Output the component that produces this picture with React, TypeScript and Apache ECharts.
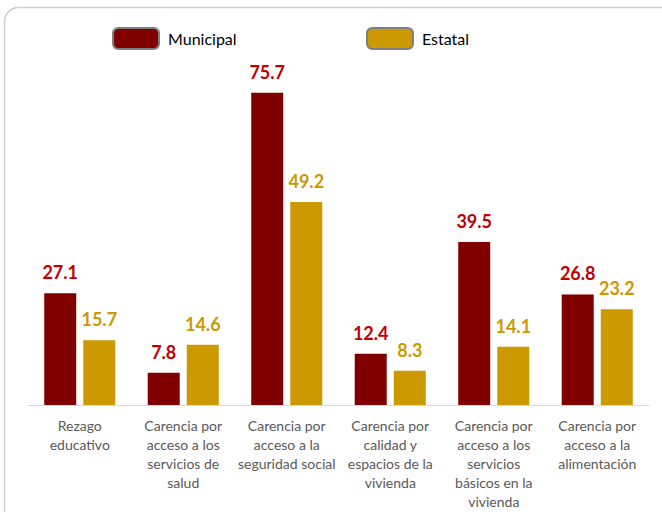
import React, { useEffect, useRef } from "react";
import * as echarts from "echarts";

const categories = [
  "Rezago\neducativo",
  "Carencia por\nacceso a los\nservicios de\nsalud",
  "Carencia por\nacceso a la\nseguridad social",
  "Carencia por\ncalidad y\nespacios de la\nvivienda",
  "Carencia por\nacceso a los\nservicios\nbásicos en la\nvivienda",
  "Carencia por\nacceso a la\nalimentación",
];
const municipal = [27.1, 7.8, 75.7, 12.4, 39.5, 26.8];
const estatal = [15.7, 14.6, 49.2, 8.3, 14.1, 23.2];

const FONT = "Lato";

export default function App() {
  const ref = useRef<HTMLDivElement>(null);
  useEffect(() => {
    if (!ref.current) return;
    const chart = echarts.init(ref.current, null, { renderer: "svg" });
    const legendBase = {
      top: 22,
      padding: 5,
      icon: "roundRect",
      itemWidth: 46,
      itemHeight: 21,
      itemGap: 10,
      itemStyle: { borderColor: "#7f7f7f", borderWidth: 2 },
      textStyle: {
        fontFamily: FONT,
        fontSize: 16,
        color: "#000000",
        padding: [0, 0, 0, 4],
      },
      selectedMode: false,
    };
    chart.setOption({
      animation: false,
      backgroundColor: "#ffffff",
      graphic: [
        {
          type: "rect",
          shape: { x: 4.5, y: 7.5, width: 700, height: 540, r: 14 },
          style: { fill: "none", stroke: "#cfcfcf", lineWidth: 1.5 },
          silent: true,
        },
      ],
      legend: [
        { ...legendBase, left: 107, data: ["Municipal"] },
        { ...legendBase, left: 361, data: ["Estatal"] },
      ],
      grid: { left: 28, right: 13, top: 75, bottom: 107 },
      xAxis: {
        type: "category",
        data: categories,
        axisLine: { lineStyle: { color: "#d9d9d9", width: 1 } },
        axisTick: { show: false },
        axisLabel: {
          interval: 0,
          margin: 11,
          fontFamily: FONT,
          fontSize: 14,
          lineHeight: 19,
          color: "#595959",
        },
      },
      yAxis: {
        type: "value",
        min: 0,
        max: 80,
        show: false,
        splitLine: { show: false },
      },
      series: [
        {
          name: "Municipal",
          type: "bar",
          data: municipal,
          barWidth: 32,
          barGap: "22%",
          itemStyle: { color: "#800000" },
          label: {
            show: true,
            position: "top",
            distance: 12,
            fontFamily: FONT,
            fontSize: 18,
            fontWeight: "bold",
            color: "#C00000",
          },
        },
        {
          name: "Estatal",
          type: "bar",
          data: estatal,
          barWidth: 32,
          itemStyle: { color: "#CC9900" },
          label: {
            show: true,
            position: "top",
            distance: 12,
            fontFamily: FONT,
            fontSize: 18,
            fontWeight: "bold",
            color: "#CC9900",
          },
        },
      ],
    });
    return () => chart.dispose();
  }, []);
  return (
    <div
      ref={ref}
      style={{ position: "fixed", left: 0, top: 0, width: 662, height: 512 }}
    />
  );
}
